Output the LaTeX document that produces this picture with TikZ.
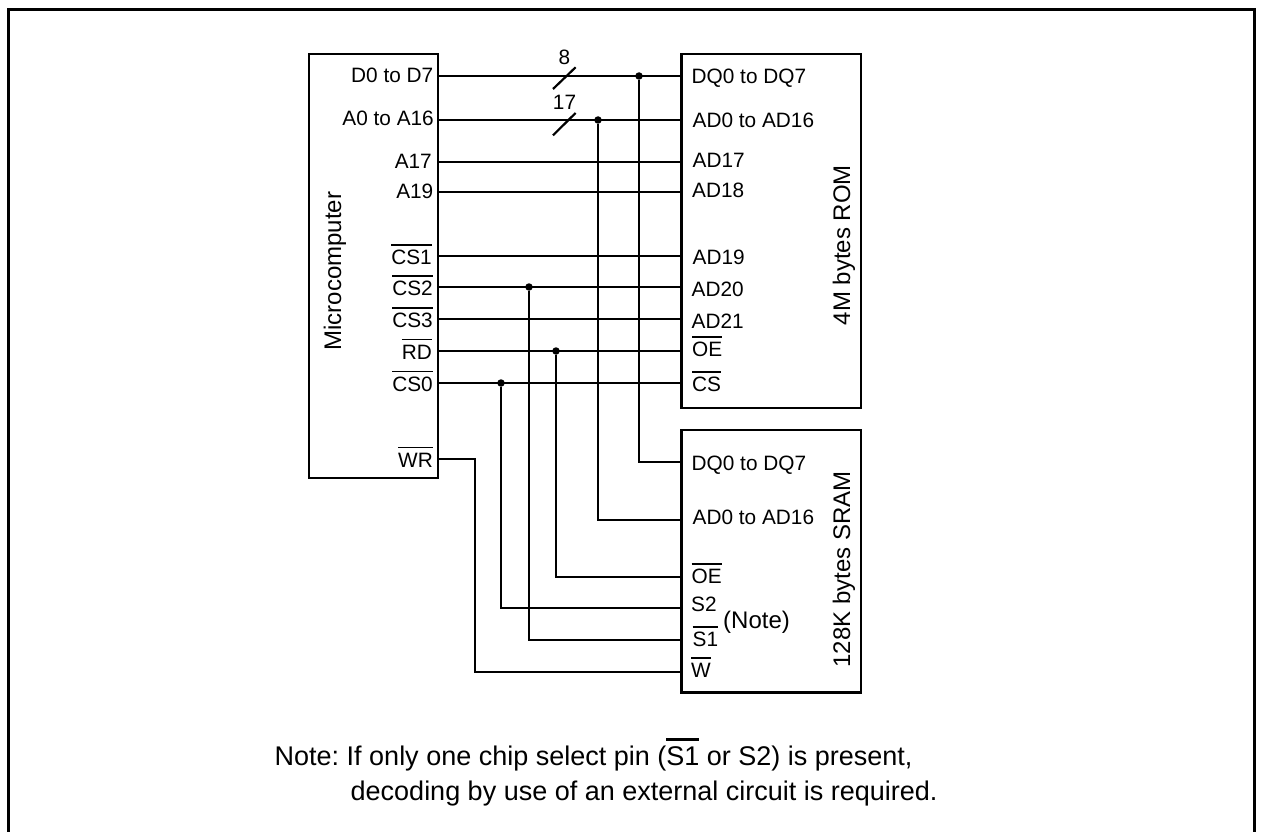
\documentclass[tikz,border=0pt]{standalone}
\usepackage{fontspec}
\setmainfont{Liberation Sans}
\frenchspacing
\newcommand{\pinbar}[1]{\leavevmode\vbox{\hrule height 1.5pt \kern 4.2pt\hbox{#1}}}
\newcommand{\notebar}[1]{\leavevmode\vbox{\hrule height 2.8pt \kern 5pt\hbox{#1}}}
\tikzset{
    chipbox/.style={draw, line width=2.6pt, inner sep=0pt, outer sep=0pt, anchor=north west},
    chipname/.style={rotate=90, anchor=base, inner sep=0pt, font=\fontsize{24}{28}\selectfont},
    outpin/.style={anchor=base east, inner sep=0pt},
    inpin/.style={anchor=base west, inner sep=0pt},
    notetext/.style={anchor=base west, inner sep=0pt, font=\fontsize{24}{28}\selectfont},
    wire/.style={line width=2.2pt},
    junction/.style={circle, fill=black, inner sep=0pt, minimum size=7.5pt}
}
\begin{document}
\begin{tikzpicture}[x=1pt, y=-1pt, font=\fontsize{20.8}{24}\selectfont]
    \useasboundingbox (0,0) rectangle (1262,832);
    \draw[line width=3pt] (8.5,832) |- (1254,10) -- (1254,832);

    % chips
    \node[chipbox, minimum width=129pt, minimum height=424pt] (mcu) at (309,54) {};
    \node[chipbox, minimum width=179.5pt, minimum height=354pt] (rom) at (681.5,54) {};
    \node[chipbox, minimum width=179.5pt, minimum height=262.5pt] (sram) at (681.5,430) {};
    \node[chipname] (mcuName) at (341,271) {Microcomputer};
    \node[chipname] (romName) at (850,245) {4M bytes ROM};
    \node[chipname] (sramName) at (850,569.5) {128K bytes SRAM};

    % wire ends
    \foreach \pin/\y in {mD/76, mA/120, mAq/162, mAs/192, mCSa/256, mCSb/287, mCSc/319, mRD/351, mCSo/383, mWR/459}
        \coordinate (\pin) at (438,\y);
    \foreach \pin/\y in {rD/76, rA/120, rAq/162, rAr/192, rAs/256, rAt/287, rAu/319, rOE/351, rCS/383, sD/462, sA/520, sOE/577, sSb/608, sSa/640, sW/672}
        \coordinate (\pin) at (681.5,\y);

    % microcomputer pins
    \node[outpin] (mDL) at (433.5,82.7) {D0 to D7};
    \node[outpin] (mAL) at (434,126) {A0 to A16};
    \node[outpin] (mAqL) at (432,168.3) {A17};
    \node[outpin] (mAsL) at (433.5,198.3) {A19};
    \node[outpin] (mCSaL) at (432,264.3) {\pinbar{CS1}};
    \node[outpin] (mCSbL) at (433,295.7) {\pinbar{CS2}};
    \node[outpin] (mCScL) at (433,327.3) {\pinbar{CS3}};
    \node[outpin] (mRDL) at (432,359) {\pinbar{RD}};
    \node[outpin] (mCSoL) at (433,391) {\pinbar{CS0}};
    \node[outpin] (mWRL) at (433,467) {\pinbar{WR}};

    % ROM pins
    \node[inpin] (rDL) at (691.5,83.3) {DQ0 to DQ7};
    \node[inpin] (rAL) at (692.5,127.3) {AD0 to AD16};
    \node[inpin] (rAqL) at (692.5,167.7) {AD17};
    \node[inpin] (rArL) at (692,197.3) {AD18};
    \node[inpin] (rAsL) at (692.5,264.3) {AD19};
    \node[inpin] (rAtL) at (691.5,296.7) {AD20};
    \node[inpin] (rAuL) at (691.5,328.7) {AD21};
    \node[inpin] (rOEL) at (692,356.7) {\pinbar{OE}};
    \node[inpin] (rCSL) at (692,391.3) {\pinbar{CS}};

    % SRAM pins
    \node[inpin] (sDL) at (691.5,470.7) {DQ0 to DQ7};
    \node[inpin] (sAL) at (692.5,524) {AD0 to AD16};
    \node[inpin] (sOEL) at (691.5,583.3) {\pinbar{OE}};
    \node[inpin] (sSbL) at (691,611.7) {S2};
    \node[inpin] (sSaL) at (692.5,646.7) {\pinbar{S1}};
    \node[inpin] (sWL) at (691,677.3) {\pinbar{W}};
    \node[notetext] (sNote) at (723,628) {(Note)};

    % junctions
    \node[junction] (jD) at (639,76) {};
    \node[junction] (jA) at (598,120) {};
    \node[junction] (jCS) at (529,287) {};
    \node[junction] (jRD) at (556,351) {};
    \node[junction] (jCSo) at (501,383) {};

    % wires
    \draw[wire] (mD) -- (rD);
    \draw[wire] (mA) -- (rA);
    \draw[wire] (mAq) -- (rAq);
    \draw[wire] (mAs) -- (rAr);
    \draw[wire] (mCSa) -- (rAs);
    \draw[wire] (mCSb) -- (rAt);
    \draw[wire] (mCSc) -- (rAu);
    \draw[wire] (mRD) -- (rOE);
    \draw[wire] (mCSo) -- (rCS);
    \draw[wire] (jD) |- (sD);
    \draw[wire] (jA) |- (sA);
    \draw[wire] (jRD) |- (sOE);
    \draw[wire] (jCSo) |- (sSb);
    \draw[wire] (jCS) |- (sSa);
    \draw[wire] (mWR) -| (475,672) -- (sW);

    % bus ticks
    \coordinate (tDa) at (553,89);
    \coordinate (tDb) at (575.6,67.3);
    \coordinate (tAa) at (553,135.3);
    \coordinate (tAb) at (575.6,113);
    \draw[wire] (tDa) -- (tDb);
    \draw[wire] (tAa) -- (tAb);
    \node[anchor=base, inner sep=0pt] (nD) at (564.5,65) {8};
    \node[anchor=base, inner sep=0pt] (nA) at (564.5,110) {17};

    % note
    \node[notetext, font=\fontsize{27}{31}\selectfont] (noteA) at (274.5,765) {Note: If only one chip select pin (\notebar{S1} or S2) is present,};
    \node[notetext, font=\fontsize{27}{31}\selectfont] (noteB) at (350.5,800.7) {decoding by use of an external circuit is required.};
\end{tikzpicture}
\end{document}
